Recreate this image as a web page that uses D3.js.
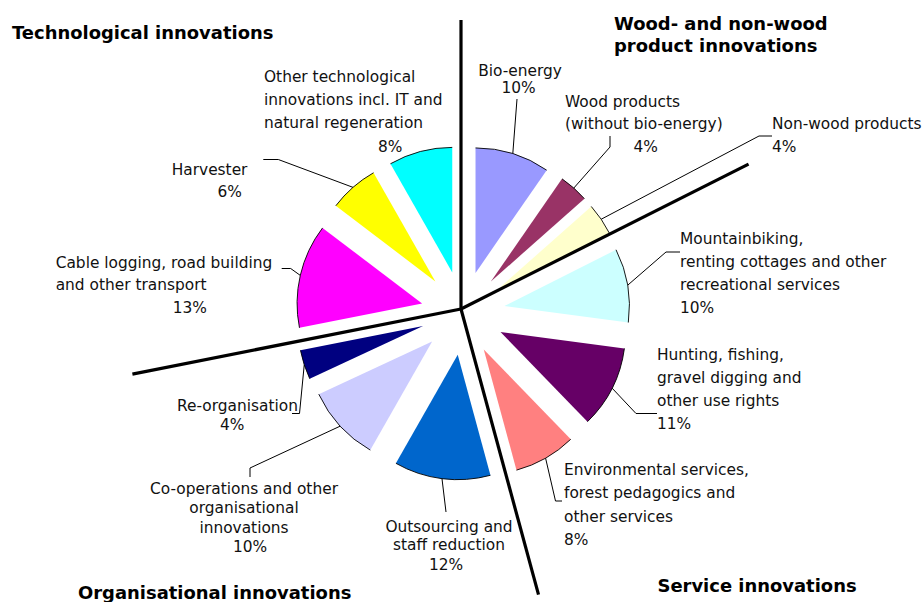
<!DOCTYPE html>
<html><head><meta charset="utf-8">
<script src="https://cdn.jsdelivr.net/npm/d3@7"></script>
<style>
body{margin:0;background:#fff}
svg{display:block}
text{font-family:"DejaVu Sans",Verdana,sans-serif;fill:#111}
</style>
</head><body>
<svg id="chart" width="924" height="602"></svg>
<script>
// ---- data ----
const categories = [
  "Bio-energy",
  "Wood products\n(without bio-energy)",
  "Non-wood products",
  "Mountainbiking,\nrenting cottages and other\nrecreational services",
  "Hunting, fishing,\ngravel digging and\nother use rights",
  "Environmental services,\nforest pedagogics and\nother services",
  "Outsourcing and\nstaff reduction",
  "Co-operations and other\norganisational\ninnovations",
  "Re-organisation",
  "Cable logging, road building\nand other transport",
  "Harvester",
  "Other technological\ninnovations incl. IT and\nnatural regeneration"
];
const values = [9.6, 3.8, 4.1, 9.5, 10.6, 8.0, 12.4, 9.8, 3.8, 13.4, 6.4, 8.2];
const groups = [
  "Wood- and non-wood\nproduct innovations",
  "Service innovations",
  "Organisational innovations",
  "Technological innovations"
];
const groupStart = [0, 3, 6, 9]; // index of first category of each group
const colors = ["#9999FF","#993366","#FFFFCC","#CCFFFF","#660066","#FF8080",
                "#0066CC","#CCCCFF","#000080","#FF00FF","#FFFF00","#00FFFF"];

// ---- layout ----
const W = 924, H = 602;
const cx = 463, cy = 313, R = 125, explode = 42;
const lineOrigin = [461, 309];
const sepLengths = [289, 322, 296, 335];
const titleLayout = [
  {x: 614, y: 30, lh: 21.5},
  {x: 657.5, y: 591.5, lh: 21.5},
  {x: 78, y: 599, lh: 21.5},
  {x: 12, y: 39, lh: 21.5}
];
const labelLayout = [
  {x:520,  y:75.5,  lh:17.5, a:"middle", px:518.5, py:92.5,  pa:"middle", leader:[[517,99]]},
  {x:565,  y:106.7, lh:22,   a:"start",  px:633.5, py:151.5, pa:"start",  leader:[[610,147],[610,136]]},
  {x:772,  y:129,   lh:22,   a:"start",  px:772,   py:151.5, pa:"start",  leader:[[759,136],[772,136]]},
  {x:680,  y:244.3, lh:23,   a:"start",  px:680,   py:313.3, pa:"start",  leader:[[666,252],[680,252]]},
  {x:657,  y:360,   lh:23,   a:"start",  px:657,   py:429,   pa:"start",  leader:[[636,413.5],[657,413.5]]},
  {x:564,  y:475,   lh:23.3, a:"start",  px:564,   py:545,   pa:"start",  leader:[[555.5,501],[562,501]]},
  {x:449,  y:531.7, lh:18.5, a:"middle", px:446,   py:569.5, pa:"middle", leader:[[446,512]]},
  {x:244,  y:494,   lh:19.3, a:"middle", px:250,   py:551.7, pa:"middle", leader:[[250,468],[250,477]]},
  {x:177,  y:411,   lh:19,   a:"start",  px:220,   py:430,   pa:"start",  leader:[[299.5,413.5],[292,413.5]]},
  {x:55.7, y:267.5, lh:22.5, a:"start",  px:207,   py:312.5, pa:"end",    leader:[[290.7,268.5],[281.7,268.5]]},
  {x:171.7,y:175,   lh:22,   a:"start",  px:242,   py:197,   pa:"end",    leader:[[278.3,159.5],[263.3,159.5]]},
  {x:264,  y:81.5,  lh:23.3, a:"start",  px:378,   py:151.5, pa:"start",  leader:[]}
];

const svg = d3.select("#chart");
svg.append("rect").attr("width", W).attr("height", H).attr("fill", "#fff");

const pie = d3.pie().sort(null).value(d => d)(values);
const total = d3.sum(values);
const arc = d3.arc().innerRadius(0).outerRadius(R);
const fmt = v => d3.format(".0f")(v / total * 100) + "%";
const dir = a => [Math.sin(a), -Math.cos(a)];

const slices = svg.append("g");
pie.forEach((p, i) => {
  const mid = (p.startAngle + p.endAngle) / 2;
  const [ux, uy] = dir(mid);
  const g = slices.append("g")
    .attr("transform", `translate(${cx + explode * ux},${cy + explode * uy})`);
  g.append("path").attr("d", arc(p)).attr("fill", colors[i]);
  const op = d3.path();
  op.arc(0, 0, R, p.startAngle - Math.PI / 2, p.endAngle - Math.PI / 2);
  g.append("path").attr("d", op.toString()).attr("fill", "none")
    .attr("stroke", "#000").attr("stroke-width", 0.9);
});

// separator lines between groups
const seps = svg.append("g");
groupStart.forEach((gi, k) => {
  const a = pie[gi].startAngle;
  const [ux, uy] = dir(a);
  seps.append("line")
    .attr("x1", lineOrigin[0]).attr("y1", lineOrigin[1])
    .attr("x2", lineOrigin[0] + sepLengths[k] * ux)
    .attr("y2", lineOrigin[1] + sepLengths[k] * uy)
    .attr("stroke", "#000").attr("stroke-width", 3.2).attr("stroke-linecap", "butt");
});

// leader lines
const leaders = svg.append("g");
pie.forEach((p, i) => {
  const L = labelLayout[i];
  if (!L.leader.length) return;
  const mid = (p.startAngle + p.endAngle) / 2;
  const [ux, uy] = dir(mid);
  const start = [cx + (R + explode) * ux, cy + (R + explode) * uy];
  leaders.append("path")
    .attr("d", d3.line()([start, ...L.leader]))
    .attr("fill", "none").attr("stroke", "#000").attr("stroke-width", 1);
});

// labels
const labels = svg.append("g").style("font-size", "15.4px");
categories.forEach((c, i) => {
  const L = labelLayout[i];
  c.split("\n").forEach((line, j) => {
    labels.append("text").attr("x", L.x).attr("y", L.y + j * L.lh)
      .attr("text-anchor", L.a).text(line);
  });
  labels.append("text").attr("x", L.px).attr("y", L.py)
    .attr("text-anchor", L.pa).text(fmt(values[i]));
});

// group titles
const titles = svg.append("g").style("font-size", "17.95px").style("font-weight", "bold");
groups.forEach((t, k) => {
  const T = titleLayout[k];
  t.split("\n").forEach((line, j) => {
    titles.append("text").attr("x", T.x).attr("y", T.y + j * T.lh)
      .style("fill", "#000").text(line);
  });
});
</script>
</body></html>
